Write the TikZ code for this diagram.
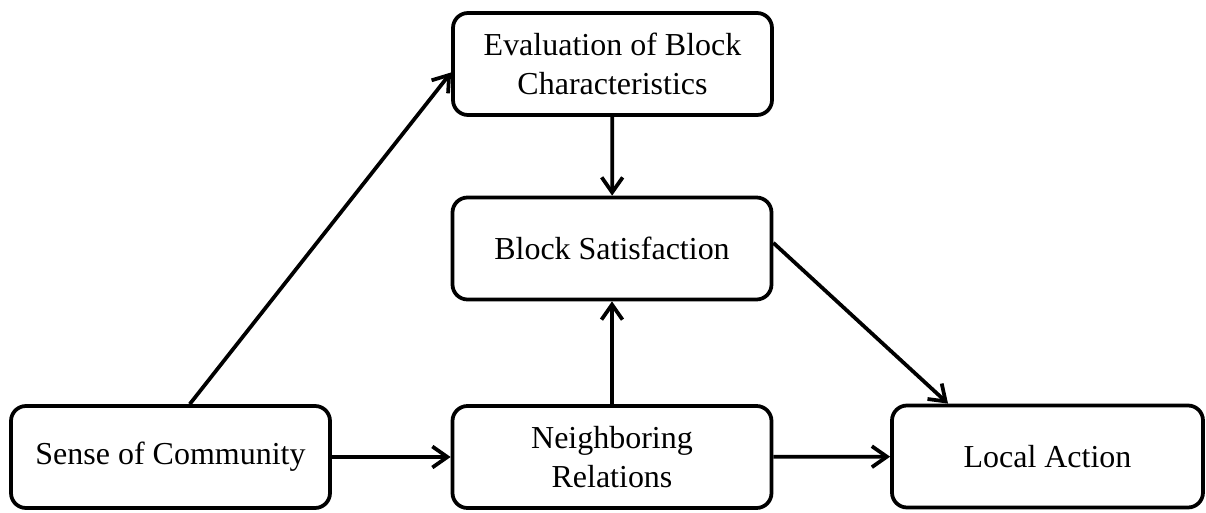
\documentclass[tikz,border=0pt]{standalone}
\usepackage{fontspec}
\setmainfont{Liberation Serif}
\usetikzlibrary{arrows.meta}
\begin{document}
\begin{tikzpicture}[
  box/.style={draw=black, line width=0.075cm, rounded corners=0.3cm, fill=white,
    align=center, inner sep=0pt, minimum height=2.04cm,
    font=\fontsize{18.2}{21.8}\selectfont},
  conn/.style={line width=0.075cm, -{Straight Barb[length=0.3cm,width=0.42cm,line width=0.075cm]}}
]
\useasboundingbox (0,0) rectangle (24.12,10.24);
\node[box, minimum width=6.38cm] (sense) at (3.41,1.1) {Sense of Community};
\node[box, minimum width=6.38cm] (neigh) at (12.24,1.1) {Neighboring\\Relations};
\node[box, minimum width=6.22cm] (local) at (20.95,1.11) {Local Action};
\node[box, minimum width=6.38cm] (eval) at (12.25,8.96) {Evaluation of Block\\Characteristics};
\node[box, minimum width=6.38cm] (sat) at (12.24,5.27) {Block Satisfaction};
\draw[conn] (sense.70) -- (eval.183);
\draw[conn] (eval) -- (sat);
\draw[conn] (neigh) -- (sat);
\draw[conn] (sense) -- (neigh);
\draw[conn] (neigh) -- (local);
\draw[conn] (sat.2) -- (local.152);
\end{tikzpicture}
\end{document}
